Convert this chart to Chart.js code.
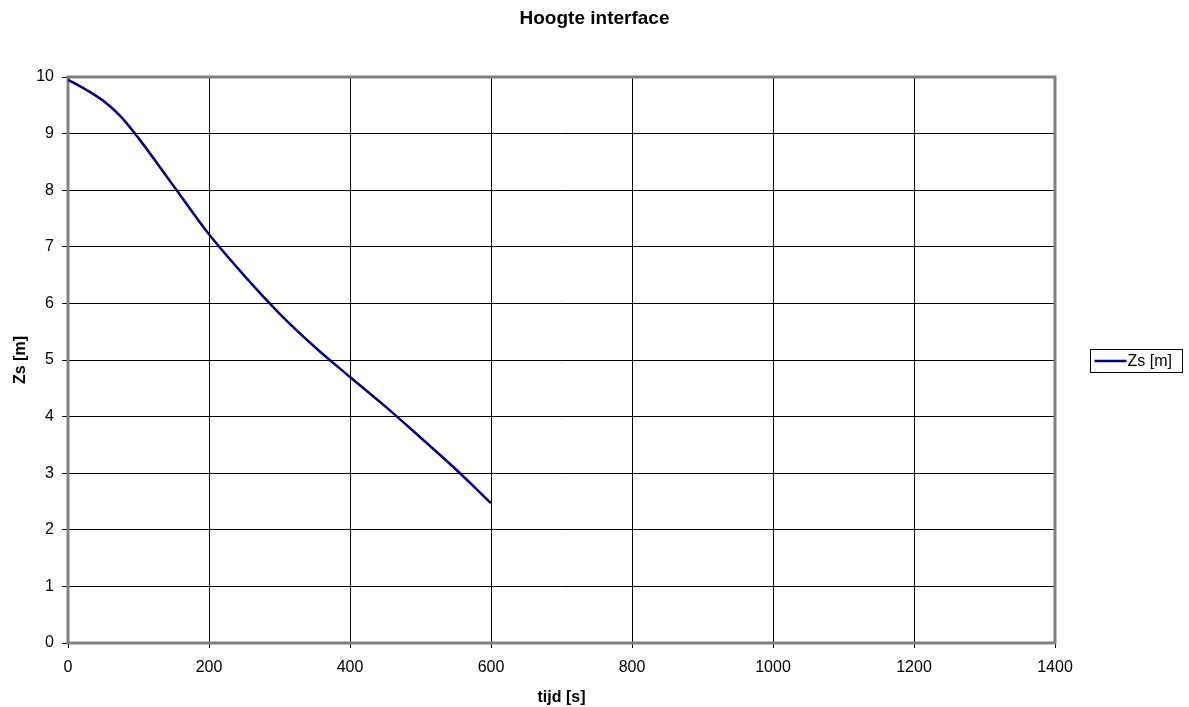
<!DOCTYPE html>
<html>
<head>
<meta charset="utf-8">
<script src="https://cdn.jsdelivr.net/npm/chart.js@4/dist/chart.umd.min.js"></script>
<style>
  html, body { margin: 0; padding: 0; background: #fff; }
  #wrap { width: 1189px; height: 707px; position: relative; }
</style>
</head>
<body>
<div id="wrap"><canvas id="c"></canvas></div>
<script>
// Interface height over time
const chartTitle = 'Hoogte interface';
const seriesName = 'Zs [m]';
const xTitle = 'tijd [s]';
const yTitle = 'Zs [m]';
const timeValues = [0, 25, 50, 75, 100, 150, 200, 250, 300, 350, 400, 450, 500, 550, 600];
const zsValues = [9.95, 9.78, 9.58, 9.30, 8.92, 8.07, 7.22, 6.49, 5.82, 5.23, 4.70, 4.18, 3.63, 3.07, 2.47];
const xTicks = [0, 200, 400, 600, 800, 1000, 1200, 1400];
const yTicks = [0, 1, 2, 3, 4, 5, 6, 7, 8, 9, 10];

const FONT = 'Arial, "Liberation Sans", sans-serif';
const points = timeValues.map((t, i) => ({ x: t, y: zsValues[i] }));

// Chart title, grey plot frame and boxed legend
const decorations = {
  id: 'decorations',
  beforeDatasetsDraw(chart) {
    const { ctx, chartArea: a } = chart;
    ctx.save();
    ctx.strokeStyle = '#808080';
    ctx.lineWidth = 3;
    ctx.strokeRect(a.left, a.top, a.right - a.left, a.bottom - a.top);
    ctx.restore();
  },
  afterDraw(chart) {
    const { ctx } = chart;
    ctx.save();
    ctx.fillStyle = '#000';
    ctx.font = 'bold 19px ' + FONT;
    ctx.textAlign = 'center';
    ctx.textBaseline = 'middle';
    ctx.fillText(chartTitle, chart.width / 2, 19);

    // legend
    const ds = chart.data.datasets[0];
    const bx = 1090.5, by = 349.5, bw = 92, bh = 23;
    ctx.fillStyle = '#fff';
    ctx.fillRect(bx, by, bw, bh);
    ctx.strokeStyle = '#000';
    ctx.lineWidth = 1;
    ctx.strokeRect(bx, by, bw, bh);
    ctx.strokeStyle = ds.borderColor;
    ctx.lineWidth = 2.5;
    ctx.beginPath();
    ctx.moveTo(bx + 4, by + bh / 2);
    ctx.lineTo(bx + 36, by + bh / 2);
    ctx.stroke();
    ctx.fillStyle = '#000';
    ctx.font = '16px ' + FONT;
    ctx.textAlign = 'left';
    ctx.fillText(ds.label, bx + 37, by + bh / 2 + 1);
    ctx.restore();
  }
};

new Chart(document.getElementById('c'), {
  type: 'line',
  data: {
    datasets: [{
      label: seriesName,
      data: points,
      borderColor: '#000080',
      borderWidth: 2.5,
      pointRadius: 0,
      fill: false,
      cubicInterpolationMode: 'monotone'
    }]
  },
  options: {
    responsive: true,
    maintainAspectRatio: false,
    animation: false,
    layout: { padding: { top: 77, right: 134, left: 0, bottom: 0 } },
    plugins: {
      legend: { display: false },
      tooltip: { enabled: false },
      title: { display: false }
    },
    scales: {
      x: {
        type: 'linear',
        min: 0,
        max: 1400,
        afterBuildTicks(scale) { scale.ticks = xTicks.map(v => ({ value: v })); },
        afterFit(scale) { scale.height = 64; },
        grid: { color: '#000', lineWidth: 1, tickLength: 5, drawTicks: true },
        border: { display: false },
        ticks: { color: '#000', font: { family: FONT, size: 16 }, padding: 10, maxRotation: 0, callback: v => String(v) },
        title: { display: true, text: xTitle, color: '#000', font: { family: FONT, size: 16, weight: 'bold' }, padding: { top: 4, bottom: 0 } }
      },
      y: {
        type: 'linear',
        min: 0,
        max: 10,
        afterBuildTicks(scale) { scale.ticks = yTicks.map(v => ({ value: v })); },
        afterFit(scale) { scale.width = 68; },
        grid: { color: '#000', lineWidth: 1, tickLength: 6, drawTicks: true },
        border: { display: false },
        ticks: { color: '#000', font: { family: FONT, size: 16 }, padding: 8, callback: v => String(v) },
        title: { display: true, text: yTitle, color: '#000', font: { family: FONT, size: 16, weight: 'bold' }, padding: { top: 11, bottom: 4 } }
      }
    }
  },
  plugins: [decorations]
});
</script>
</body>
</html>
